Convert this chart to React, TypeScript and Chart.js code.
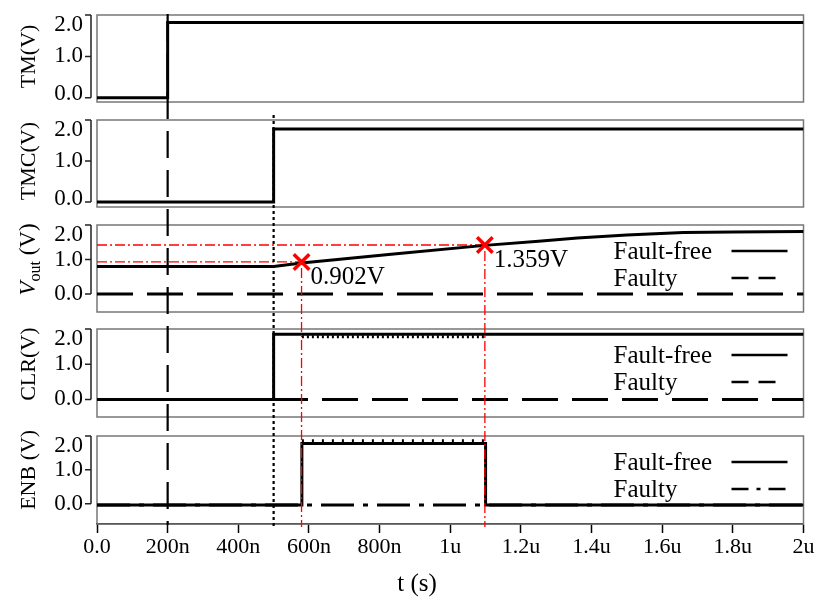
import React, { useEffect, useRef } from 'react';
import { Chart, registerables } from 'chart.js';

Chart.register(...registerables);

const FONT = "'Liberation Serif', 'Times New Roman', Times, serif";

// ---- axes (time in ns) ----
const xTickValues = [0, 200, 400, 600, 800, 1000, 1200, 1400, 1600, 1800, 2000];
const xTickLabels = ['0.0', '200n', '400n', '600n', '800n', '1u', '1.2u', '1.4u', '1.6u', '1.8u', '2u'];
const yTickValues = [0, 1, 2];
const yTickLabels = ['0.0', '1.0', '2.0'];

// ---- series ----
const tmTime = [0, 200, 200, 2000];
const tmVolt = [0, 0, 1.82, 1.82];

const tmcTime = [0, 500, 500, 2000];
const tmcVolt = [0, 0, 1.78, 1.78];

const voutTime = [0, 500, 579, 840, 1098, 1250, 1360, 1500, 1660, 1800, 2000];
const voutFaultFree = [0.8, 0.8, 0.9, 1.16, 1.41, 1.53, 1.62, 1.71, 1.78, 1.8, 1.81];
const voutFaultyTime = [0, 2000];
const voutFaulty = [0, 0];

const clrTime = [0, 500, 500, 2000];
const clrFaultFree = [0, 0, 1.85, 1.85];
const clrRippleTime = [580, 1100];
const clrRipple = [1.78, 1.78];
const clrFaultyTime = [0, 2000];
const clrFaulty = [0, 0];

const enbTime = [0, 580, 580, 1100, 1100, 2000];
const enbFaultFree = [-0.04, -0.04, 1.78, 1.78, -0.04, -0.04];
const enbRippleTime = [580, 1100];
const enbRipple = [1.86, 1.86];
const enbFaultyTime = [0, 2000];
const enbFaulty = [-0.04, -0.04];

// ---- annotations ----
const markerTime = [579, 1098];
const markerVolt = [0.93, 1.42];
const markerLabels = ['0.902V', '1.359V'];
const tmEdgeTime = 200;
const tmcEdgeTime = 500;

const PANELS = [
  { id: 'yTM', title: 'TM(V)', min: -0.1, max: 2.0, weight: 87 },
  { id: 'yTMC', title: 'TMC(V)', min: -0.12, max: 2.0, weight: 87 },
  { id: 'yVout', title: 'VOUT', min: -0.52, max: 2.0, weight: 87 },
  { id: 'yCLR', title: 'CLR(V)', min: -0.5, max: 2.0, weight: 88 },
  { id: 'yENB', title: 'ENB (V)', min: -0.6, max: 2.0, weight: 88 },
];
const GAPS = [18, 18, 17, 19];

const LEGENDS: Record<string, { label: string; dash: number[]; len: number }[]> = {
  yVout: [
    { label: 'Fault-free', dash: [], len: 56 },
    { label: 'Faulty', dash: [17, 10], len: 45 },
  ],
  yCLR: [
    { label: 'Fault-free', dash: [], len: 56 },
    { label: 'Faulty', dash: [17, 10], len: 45 },
  ],
  yENB: [
    { label: 'Fault-free', dash: [], len: 56 },
    { label: 'Faulty', dash: [17, 8, 4, 8], len: 56 },
  ],
};

const pts = (xs: number[], ys: number[]) => xs.map((x, i) => ({ x, y: ys[i] }));

const line = (data: any, yAxisID: string, extra: any = {}) => ({
  data,
  yAxisID,
  borderColor: '#000',
  borderWidth: 3,
  pointRadius: 0,
  fill: false,
  tension: 0,
  borderCapStyle: 'butt',
  ...extra,
});

function strokeLine(ctx: CanvasRenderingContext2D, x1: number, y1: number, x2: number, y2: number, color: string, width: number, dash: number[]) {
  ctx.save();
  ctx.strokeStyle = color;
  ctx.lineWidth = width;
  ctx.setLineDash(dash);
  ctx.beginPath();
  ctx.moveTo(x1, y1);
  ctx.lineTo(x2, y2);
  ctx.stroke();
  ctx.restore();
}

const overlayPlugin = {
  id: 'overlay',
  beforeDatasetsDraw(chart: any) {
    const { ctx, chartArea } = chart;
    ctx.save();
    ctx.strokeStyle = '#777';
    ctx.lineWidth = 1.5;
    for (const p of PANELS) {
      const s = chart.scales[p.id];
      ctx.strokeRect(chartArea.left, s.top, chartArea.right - chartArea.left, s.bottom - s.top);
    }
    ctx.restore();
  },
  afterDraw(chart: any) {
    const { ctx, chartArea } = chart;
    const xs = chart.scales.x;
    const bottom = chartArea.bottom + 1;

    // vertical guide lines
    const x200 = xs.getPixelForValue(tmEdgeTime);
    strokeLine(ctx, x200, chart.scales.yTM.top - 1, x200, bottom, '#000', 2.2, [27, 12]);
    const x500 = xs.getPixelForValue(tmcEdgeTime);
    strokeLine(ctx, x500, chart.scales.yTMC.top - 5, x500, bottom + 2, '#000', 2.2, [3, 3]);

    const yv = chart.scales.yVout;
    markerTime.forEach((t, i) => {
      const mx = xs.getPixelForValue(t);
      const my = yv.getPixelForValue(markerVolt[i]);
      strokeLine(ctx, mx, my + 6, mx, bottom + 2, '#ff0000', 1.3, [10, 3, 2, 3]);
    });

    // panel y axes: bracket, ticks, labels, titles
    for (const p of PANELS) {
      const s = chart.scales[p.id];
      const bx = chartArea.left - 6;
      const y0 = s.getPixelForValue(yTickValues[0]);
      const y2 = s.getPixelForValue(yTickValues[yTickValues.length - 1]);
      ctx.save();
      ctx.strokeStyle = '#222';
      ctx.lineWidth = 1.5;
      ctx.beginPath();
      ctx.moveTo(bx, y2);
      ctx.lineTo(bx, y0);
      yTickValues.forEach((v) => {
        const ty = s.getPixelForValue(v);
        ctx.moveTo(bx - 6, ty);
        ctx.lineTo(bx, ty);
      });
      ctx.stroke();
      ctx.fillStyle = '#000';
      ctx.font = `23px ${FONT}`;
      ctx.textAlign = 'right';
      ctx.textBaseline = 'middle';
      yTickValues.forEach((v, i) => {
        const ty = s.getPixelForValue(v);
        const cy = Math.min(Math.max(ty, s.top + 9.5), s.bottom - 8.5);
        ctx.fillText(yTickLabels[i], chartArea.left - 14, cy);
      });
      ctx.restore();

      // title
      const cy = s.getPixelForValue(1);
      ctx.save();
      ctx.translate(27, cy);
      ctx.rotate(-Math.PI / 2);
      ctx.fillStyle = '#000';
      ctx.textBaseline = 'alphabetic';
      ctx.textAlign = 'left';
      const base = 7.5;
      if (p.id === 'yVout') {
        const f1 = `italic 23px ${FONT}`;
        const f2 = `16px ${FONT}`;
        const f3 = `23px ${FONT}`;
        ctx.font = f1; const w1 = ctx.measureText('V').width;
        ctx.font = f2; const w2 = ctx.measureText('out').width;
        ctx.font = f3; const w3 = ctx.measureText(' (V)').width;
        let x = -(w1 + w2 + w3) / 2;
        ctx.font = f1; ctx.fillText('V', x, base); x += w1;
        ctx.font = f2; ctx.fillText('out', x, base + 5); x += w2;
        ctx.font = f3; ctx.fillText(' (V)', x, base);
      } else {
        ctx.font = `22px ${FONT}`;
        ctx.textAlign = 'center';
        ctx.fillText(p.title, 0, base);
      }
      ctx.restore();

      // legend
      const items = LEGENDS[p.id];
      if (items) {
        items.forEach((it, i) => {
          const by = s.top + 34 + i * 27;
          ctx.save();
          ctx.fillStyle = '#000';
          ctx.font = `25px ${FONT}`;
          ctx.textAlign = 'left';
          ctx.textBaseline = 'alphabetic';
          ctx.fillText(it.label, chartArea.right - 190, by);
          ctx.restore();
          const sx = chartArea.right - 72;
          strokeLine(ctx, sx, by - 8, sx + it.len, by - 8, '#000', 2.5, it.dash);
        });
      }
    }

    // marker value labels
    ctx.save();
    ctx.fillStyle = '#000';
    ctx.font = `25px ${FONT}`;
    ctx.textAlign = 'left';
    ctx.textBaseline = 'alphabetic';
    markerTime.forEach((t, i) => {
      const mx = xs.getPixelForValue(t);
      const my = yv.getPixelForValue(markerVolt[i]);
      ctx.fillText(markerLabels[i], mx + 9, my + 22);
    });
    // x title
    ctx.textAlign = 'center';
    ctx.fillText('t (s)', 417, 591);
    ctx.restore();
  },
};

export default function App() {
  const ref = useRef<HTMLCanvasElement>(null);

  useEffect(() => {
    const canvas = ref.current;
    if (!canvas) return;

    const hideY = (id: string, min: number, max: number, weight: number, order: number) => ({
      type: 'linear',
      position: 'left',
      stack: 'panels',
      stackWeight: weight,
      weight: order,
      min,
      max,
      ticks: { display: false },
      grid: { display: false, drawTicks: false },
      border: { display: false },
      afterFit: (s: any) => {
        s.width = 97;
        s.paddingTop = 0;
        s.paddingBottom = 0;
      },
    });

    const scales: any = {
      x: {
        type: 'linear',
        min: 0,
        max: 2000,
        afterBuildTicks: (s: any) => {
          s.ticks = xTickValues.map((v) => ({ value: v }));
        },
        ticks: {
          autoSkip: false,
          maxRotation: 0,
          padding: 1,
          color: '#000',
          font: { family: FONT, size: 22 },
          callback: (v: any) => {
            const i = xTickValues.indexOf(Number(v));
            return i >= 0 ? xTickLabels[i] : '';
          },
        },
        grid: {
          display: true,
          drawOnChartArea: false,
          drawTicks: true,
          tickLength: 9,
          tickColor: '#000',
          tickWidth: 1.5,
        },
        border: { display: true, color: '#000', width: 1.5 },
        afterFit: (s: any) => {
          s.height = 75;
          s.paddingLeft = 0;
          s.paddingRight = 0;
        },
      },
    };
    // define bottom-to-top so that the top panel is placed first
    let order = 1;
    for (let i = PANELS.length - 1; i >= 0; i--) {
      const p = PANELS[i];
      scales[p.id] = hideY(p.id, p.min, p.max, p.weight, order++);
      if (i > 0) {
        scales['gap' + i] = hideY('gap' + i, 0, 1, GAPS[i - 1], order++);
      }
    }

    const datasets: any[] = [
      {
        type: 'line',
        data: pts(markerTime, markerVolt),
        yAxisID: 'yVout',
        showLine: false,
        pointStyle: 'crossRot',
        pointRadius: 11,
        pointBorderWidth: 3.5,
        pointBorderColor: '#ff0000',
        pointBackgroundColor: '#ff0000',
      },
      line(pts(tmTime, tmVolt), 'yTM'),
      line(pts(tmcTime, tmcVolt), 'yTMC'),
      line(pts(voutTime, voutFaultFree), 'yVout'),
      line(pts(voutFaultyTime, voutFaulty), 'yVout', { borderDash: [36, 14], borderDashOffset: 0 }),
      ...markerTime.map((t, i) =>
        line(pts([0, t], [markerVolt[i], markerVolt[i]]), 'yVout', {
          borderColor: '#ff0000',
          borderWidth: 1.3,
          borderDash: [10, 3, 2, 3],
        })
      ),
      line(pts(clrTime, clrFaultFree), 'yCLR'),
      line(pts(clrRippleTime, clrRipple), 'yCLR', { borderWidth: 3, borderDash: [2, 3] }),
      line(pts(clrFaultyTime, clrFaulty), 'yCLR', { borderDash: [36, 14], borderDashOffset: 25 }),
      line(pts(enbTime, enbFaultFree), 'yENB'),
      line(pts(enbRippleTime, enbRipple), 'yENB', { borderWidth: 3, borderDash: [2, 8] }),
      line(pts(enbFaultyTime, enbFaulty), 'yENB', { borderDash: [33, 9, 5, 9] }),
    ];

    Chart.defaults.font.family = FONT;
    const chart = new Chart(canvas, {
      type: 'line',
      data: { datasets },
      options: {
        responsive: false,
        animation: false,
        events: [],
        layout: { padding: { top: 15, right: 10, bottom: 0, left: 0 } },
        plugins: { legend: { display: false }, tooltip: { enabled: false } },
        scales,
      } as any,
      plugins: [overlayPlugin],
    });
    return () => chart.destroy();
  }, []);

  return (
    <div style={{ position: 'absolute', left: 0, top: 0, width: 818, height: 599, background: '#fff' }}>
      <canvas ref={ref} width={818} height={599} style={{ display: 'block', width: 818, height: 599 }} />
    </div>
  );
}
